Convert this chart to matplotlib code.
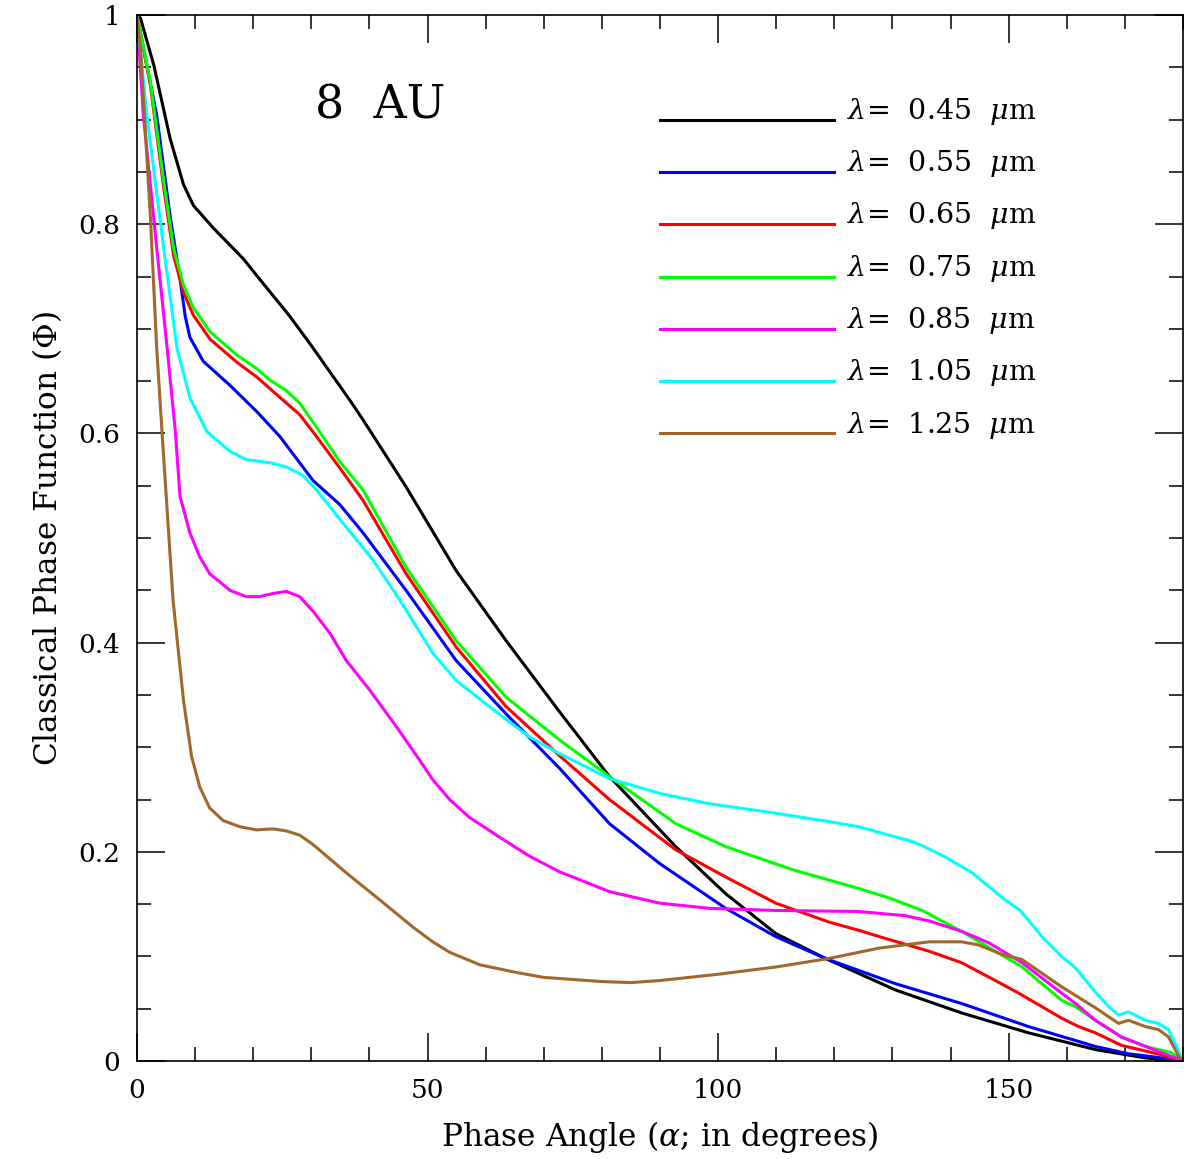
import matplotlib
matplotlib.use("Agg")
import matplotlib.pyplot as plt
from matplotlib.ticker import MultipleLocator, FixedLocator

plt.rcParams['font.family'] = ['DejaVu Serif']
plt.rcParams['mathtext.fontset'] = 'dejavuserif'

# phase angle (deg) and classical phase function for each wavelength
a_045 = [0, 0.6, 2.9, 5.7, 8, 9.7, 13.2, 18.3, 20.6, 26.3, 30, 36.6, 38.9, 46.3, 54.9, 63.5, 72.7,
         81.3, 92.7, 101.3, 109.9, 118.5, 130.5, 141.9, 153.4, 164.9, 173.5, 180]
v_045 = [1, 0.997, 0.952, 0.882, 0.838, 0.818, 0.796, 0.767, 0.751, 0.712, 0.684, 0.632, 0.613,
         0.549, 0.469, 0.402, 0.334, 0.272, 0.205, 0.16, 0.122, 0.098, 0.068, 0.046, 0.027, 0.011,
         0.003, 0]

a_055 = [0, 3.4, 5.7, 7.4, 8.3, 9.1, 11.4, 16, 20.6, 24.6, 30.3, 34.9, 38.9, 46.3, 54.9, 63.5,
         72.7, 81.3, 89.9, 101.3, 109.9, 118.5, 130.5, 141.9, 153.4, 164.9, 170.6, 176.3, 180]
v_055 = [1, 0.904, 0.808, 0.748, 0.712, 0.692, 0.669, 0.646, 0.621, 0.597, 0.555, 0.532, 0.505,
         0.45, 0.383, 0.332, 0.28, 0.227, 0.189, 0.146, 0.119, 0.098, 0.074, 0.055, 0.033, 0.014,
         0.007, 0.003, 0]

a_065 = [0, 2.3, 4.6, 6.3, 8, 9.7, 12.6, 17.2, 20.6, 25.1, 28, 30.5, 34.9, 38.9, 46.3, 54.9, 63.5,
         72.7, 81.3, 92.7, 101.3, 109.9, 119, 124.2, 127.7, 136.3, 141.9, 147.7, 151.7, 159.1, 162,
         164.9, 169.4, 176.3, 180]
v_065 = [1, 0.933, 0.835, 0.77, 0.735, 0.713, 0.69, 0.668, 0.654, 0.632, 0.618, 0.6, 0.567, 0.536,
         0.466, 0.396, 0.339, 0.292, 0.25, 0.202, 0.176, 0.151, 0.133, 0.125, 0.119, 0.105, 0.094,
         0.077, 0.065, 0.041, 0.033, 0.027, 0.015, 0.006, 0]

a_075 = [0, 2.3, 4.6, 6.3, 8, 9.7, 12.6, 17.2, 20.6, 22.9, 25.7, 28, 30.9, 34.9, 38.9, 46.3, 54.9,
         63.5, 72.7, 81.3, 92.7, 101.3, 112.8, 124.2, 129.4, 135.1, 141.9, 147.7, 152.3, 159.1,
         161.5, 164.9, 169.4, 173.5, 178, 180]
v_075 = [1, 0.936, 0.841, 0.777, 0.742, 0.72, 0.697, 0.675, 0.662, 0.651, 0.641, 0.629, 0.606,
         0.573, 0.546, 0.472, 0.402, 0.348, 0.307, 0.272, 0.227, 0.205, 0.183, 0.165, 0.156, 0.144,
         0.124, 0.105, 0.09, 0.058, 0.052, 0.039, 0.023, 0.014, 0.008, 0]

a_085 = [0, 1.1, 3.4, 5.2, 6.6, 7.4, 9.1, 10.8, 12.5, 16, 18.8, 21.1, 23.4, 25.7, 28, 30.3, 33.2,
         36, 40, 44.6, 48.6, 50.9, 53.8, 57.2, 62.4, 67.5, 72.7, 81.3, 89.9, 98.5, 109.9, 124.2,
         132.2, 136.3, 141.9, 146.6, 152.3, 159.1, 161.5, 164.9, 169.4, 176.3, 180]
v_085 = [1, 0.904, 0.777, 0.681, 0.602, 0.54, 0.505, 0.482, 0.466, 0.45, 0.444, 0.444, 0.447, 0.449,
         0.444, 0.43, 0.409, 0.383, 0.355, 0.32, 0.288, 0.269, 0.25, 0.233, 0.214, 0.196, 0.181,
         0.162, 0.151, 0.146, 0.144, 0.143, 0.139, 0.134, 0.124, 0.113, 0.094, 0.065, 0.055, 0.039,
         0.023, 0.008, 0]

a_105 = [0, 1.7, 4.6, 6.9, 9.1, 12, 16, 18.8, 22.9, 25.7, 28.5, 30.9, 34.9, 40.6, 45.2, 50.9, 54.9,
         60.6, 67.5, 72.7, 81.3, 89.9, 98.5, 109.9, 119, 124.2, 129.4, 132.8, 135.1, 139.1, 143.7,
         149.4, 152, 155.7, 159.1, 161.5, 164.9, 167.2, 168.9, 170.6, 173.5, 175.8, 177.5, 178.6,
         180]
v_105 = [1, 0.904, 0.777, 0.681, 0.634, 0.602, 0.583, 0.575, 0.572, 0.568, 0.56, 0.546, 0.518,
         0.479, 0.441, 0.39, 0.364, 0.339, 0.31, 0.294, 0.27, 0.256, 0.246, 0.237, 0.229, 0.224,
         0.216, 0.211, 0.206, 0.195, 0.18, 0.154, 0.144, 0.119, 0.1, 0.089, 0.066, 0.052, 0.044,
         0.047, 0.039, 0.036, 0.03, 0.017, 0]

a_125 = [0, 0.6, 2.3, 3.4, 4.3, 6.2, 8, 9.4, 10.8, 12.5, 14.8, 17.7, 20.6, 23.4, 25.7, 28, 30.3, 36,
         41.8, 47.5, 50.9, 53.8, 59, 65, 70, 80, 85, 90, 100, 110, 119, 127.7, 136.3, 141.9, 144.8,
         148.8, 152.3, 159.1, 164.9, 168.9, 170.6, 173.5, 175.8, 177.5, 179.2, 180]
v_125 = [1, 0.968, 0.808, 0.681, 0.602, 0.441, 0.345, 0.291, 0.262, 0.242, 0.23, 0.224, 0.221,
         0.222, 0.22, 0.216, 0.207, 0.18, 0.154, 0.128, 0.114, 0.104, 0.092, 0.085, 0.08, 0.076,
         0.075, 0.077, 0.083, 0.09, 0.098, 0.108, 0.114, 0.114, 0.111, 0.102, 0.097, 0.071, 0.051,
         0.036, 0.039, 0.033, 0.03, 0.023, 0.005, 0]

wavelengths = ['0.45', '0.55', '0.65', '0.75', '0.85', '1.05', '1.25']
colors = ['black', '#0000ff', '#ff0000', '#00ff00', '#ff00ff', '#00ffff', '#a0682d']
angles = [a_045, a_055, a_065, a_075, a_085, a_105, a_125]
values = [v_045, v_055, v_065, v_075, v_085, v_105, v_125]

fig = plt.figure(figsize=(11.84, 11.59), dpi=100)
ax = fig.add_axes([0.1157, 0.0845, 0.8835, 0.9025])

for a, v, c in zip(angles, values, colors):
    ax.plot(a, v, color=c, lw=2.2, solid_joinstyle='round')

ax.set_xlim(0, 180)
ax.set_ylim(0, 1)

# legend drawn by hand in the upper right, as in the original
for i, (w, c) in enumerate(zip(wavelengths, colors)):
    y = 0.9 - 0.05 * i
    ax.plot([0.5, 0.6665], [y, y], color=c, lw=2.2, transform=ax.transAxes)
    ax.text(0.679, y + 0.008, r'$\lambda$=  ' + w + r'  $\mu$m', fontsize=20.5,
            transform=ax.transAxes, va='center')

ax.text(0.17, 0.892, '8  AU', fontsize=33, transform=ax.transAxes, va='bottom')

ax.xaxis.set_major_locator(FixedLocator([0, 50, 100, 150]))
ax.xaxis.set_minor_locator(MultipleLocator(10))
ax.yaxis.set_minor_locator(MultipleLocator(0.05))
ax.set_yticks([0, 0.2, 0.4, 0.6, 0.8, 1.0])
ax.set_yticklabels(['0', '0.2', '0.4', '0.6', '0.8', '1'])
ax.tick_params(which='both', direction='in', top=True, right=True, labelsize=19,
               width=1.1, pad=12)
ax.tick_params(which='major', length=20)
ax.tick_params(which='minor', length=10)
for s in ax.spines.values():
    s.set_linewidth(1.2)

ax.set_xlabel('Phase Angle ($\\alpha$; in degrees)', fontsize=22.5, labelpad=12)
ax.set_ylabel('Classical Phase Function ($\\Phi$)', fontsize=22.5, labelpad=10)

fig.savefig('out.png', dpi=100)
